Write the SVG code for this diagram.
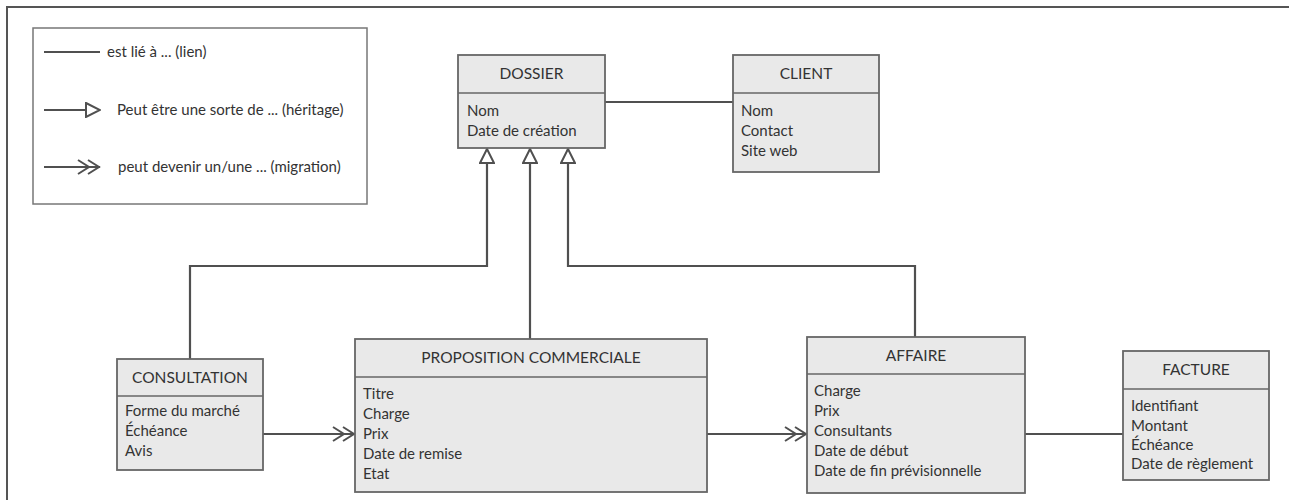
<svg xmlns="http://www.w3.org/2000/svg" width="1289" height="500" viewBox="0 0 1289 500">
<style>
  .box { fill: #e9e9e9; stroke: #666; stroke-width: 1.8; }
  .sep { stroke: #666; stroke-width: 1.5; }
  .title { font-family: Lato, "Open Sans", sans-serif; font-size: 15.5px; fill: #333; text-anchor: middle; }
  .attr { font-family: Lato, "Open Sans", sans-serif; font-size: 15px; fill: #333; }
  .legend { font-family: Lato, "Open Sans", sans-serif; font-size: 15px; fill: #333; }
  .conn { fill: none; stroke: #505050; stroke-width: 2.2; }
</style>
<defs>
  <marker id="tri" viewBox="0 0 16 16" refX="15" refY="8" markerWidth="16" markerHeight="16" markerUnits="userSpaceOnUse" orient="auto">
    <path d="M1,1 L15,8 L1,15 Z" fill="#fff" stroke="#505050" stroke-width="2"/>
  </marker>
  <marker id="dbl" viewBox="0 0 24 18" refX="23" refY="9" markerWidth="24" markerHeight="18" markerUnits="userSpaceOnUse" orient="auto">
    <path d="M1,2 L12,9 L1,16 M11,2 L22,9 L11,16" fill="none" stroke="#505050" stroke-width="2"/>
  </marker>
</defs>
<rect width="1289" height="500" fill="#fff"/>
<path d="M7,500 L7,7 L1289,7" fill="none" stroke="#555" stroke-width="2"/>

<g id="legend">
  <rect x="33" y="28" width="334" height="176" fill="#fff" stroke="#777" stroke-width="1.5"/>
  <line x1="44" y1="52" x2="100" y2="52" class="conn"/>
  <text x="107" y="57" class="legend">est lié à ... (lien)</text>
  <line x1="44" y1="110" x2="100" y2="110" class="conn" marker-end="url(#tri)"/>
  <text x="117" y="115" class="legend">Peut être une sorte de ... (héritage)</text>
  <line x1="44" y1="167" x2="100" y2="167" class="conn" marker-end="url(#dbl)"/>
  <text x="118" y="172" class="legend">peut devenir un/une ... (migration)</text>
</g>

<g id="connectors">
  <line x1="605" y1="102" x2="733" y2="102" class="conn"/>
  <polyline points="190,359 190,266 487,266 487,149" class="conn" marker-end="url(#tri)"/>
  <polyline points="530,339 530,149" class="conn" marker-end="url(#tri)"/>
  <polyline points="915,337 915,266 568,266 568,149" class="conn" marker-end="url(#tri)"/>
  <line x1="263" y1="434" x2="355" y2="434" class="conn" marker-end="url(#dbl)"/>
  <line x1="707" y1="434" x2="807" y2="434" class="conn" marker-end="url(#dbl)"/>
  <line x1="1025" y1="434" x2="1123" y2="434" class="conn"/>
</g>

<g id="dossier">
  <rect x="458" y="55" width="147" height="93" class="box"/>
  <line x1="458" y1="93" x2="605" y2="93" class="sep"/>
  <text x="531.5" y="79" class="title">DOSSIER</text>
  <text x="467" y="116" class="attr">Nom</text>
  <text x="467" y="136" class="attr">Date de création</text>
</g>

<g id="client">
  <rect x="733" y="55" width="146" height="117" class="box"/>
  <line x1="733" y1="93" x2="879" y2="93" class="sep"/>
  <text x="806" y="79" class="title">CLIENT</text>
  <text x="741" y="116" class="attr">Nom</text>
  <text x="741" y="136" class="attr">Contact</text>
  <text x="741" y="156" class="attr">Site web</text>
</g>

<g id="consultation">
  <rect x="117" y="359" width="146" height="111" class="box"/>
  <line x1="117" y1="396" x2="263" y2="396" class="sep"/>
  <text x="190" y="383" class="title">CONSULTATION</text>
  <text x="125" y="416" class="attr">Forme du marché</text>
  <text x="125" y="436" class="attr">Échéance</text>
  <text x="125" y="456" class="attr">Avis</text>
</g>

<g id="proposition">
  <rect x="355" y="339" width="352" height="153" class="box"/>
  <line x1="355" y1="377" x2="707" y2="377" class="sep"/>
  <text x="531" y="363" class="title">PROPOSITION COMMERCIALE</text>
  <text x="363" y="399" class="attr">Titre</text>
  <text x="363" y="419" class="attr">Charge</text>
  <text x="363" y="439" class="attr">Prix</text>
  <text x="363" y="459" class="attr">Date de remise</text>
  <text x="363" y="479" class="attr">Etat</text>
</g>

<g id="affaire">
  <rect x="807" y="337" width="218" height="156" class="box"/>
  <line x1="807" y1="374" x2="1025" y2="374" class="sep"/>
  <text x="916" y="361" class="title">AFFAIRE</text>
  <text x="814" y="396" class="attr">Charge</text>
  <text x="814" y="416" class="attr">Prix</text>
  <text x="814" y="436" class="attr">Consultants</text>
  <text x="814" y="456" class="attr">Date de début</text>
  <text x="814" y="476" class="attr">Date de fin prévisionnelle</text>
</g>

<g id="facture">
  <rect x="1123" y="351" width="146" height="129" class="box"/>
  <line x1="1123" y1="389" x2="1269" y2="389" class="sep"/>
  <text x="1196" y="375" class="title">FACTURE</text>
  <text x="1131" y="411" class="attr">Identifiant</text>
  <text x="1131" y="431" class="attr">Montant</text>
  <text x="1131" y="450" class="attr">Échéance</text>
  <text x="1131" y="469" class="attr">Date de règlement</text>
</g>
</svg>
